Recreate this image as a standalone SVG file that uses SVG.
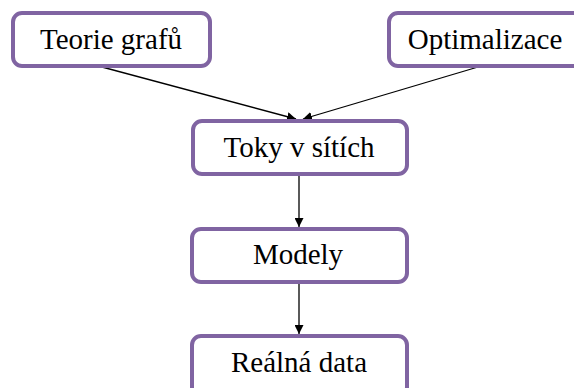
<svg xmlns="http://www.w3.org/2000/svg" width="574" height="388" viewBox="0 0 574 388">
  <style>
    .box { fill: #ffffff; stroke: #8064a2; stroke-width: 4; }
    .label { font-family: "Liberation Serif", "Times New Roman", serif; font-size: 29px; fill: #000000; text-anchor: middle; }
    .edge { stroke: #000000; stroke-width: 1.3; fill: none; marker-end: url(#arrow); }
  </style>
  <defs>
    <marker id="arrow" viewBox="0 0 10 10" refX="10" refY="5" markerWidth="9" markerHeight="9" markerUnits="userSpaceOnUse" orient="auto">
      <path d="M0,0 L10,5 L0,10 z" fill="#000000"/>
    </marker>
  </defs>
  <rect width="574" height="388" fill="#ffffff"/>

  <g id="connectors">
    <line class="edge" x1="102" y1="67" x2="296" y2="119"/>
    <line class="edge" x1="478" y1="67" x2="303" y2="119"/>
    <line class="edge" x1="299" y1="175" x2="299" y2="227"/>
    <line class="edge" x1="299" y1="283" x2="299" y2="334"/>
  </g>

  <g id="teorie-grafu">
    <rect class="box" x="13" y="13" width="197" height="53" rx="9"/>
    <text class="label" x="111" y="49">Teorie grafů</text>
  </g>
  <g id="optimalizace">
    <rect class="box" x="389" y="13" width="197" height="53" rx="9"/>
    <text class="label" x="485" y="49">Optimalizace</text>
  </g>
  <g id="toky-v-sitich">
    <rect class="box" x="193" y="121" width="214" height="53" rx="9"/>
    <text class="label" x="299" y="157">Toky v sítích</text>
  </g>
  <g id="modely">
    <rect class="box" x="192" y="229" width="215" height="53" rx="9"/>
    <text class="label" x="298" y="264">Modely</text>
  </g>
  <g id="realna-data">
    <rect class="box" x="192" y="336" width="215" height="60" rx="9"/>
    <text class="label" x="299" y="372">Reálná data</text>
  </g>
</svg>
